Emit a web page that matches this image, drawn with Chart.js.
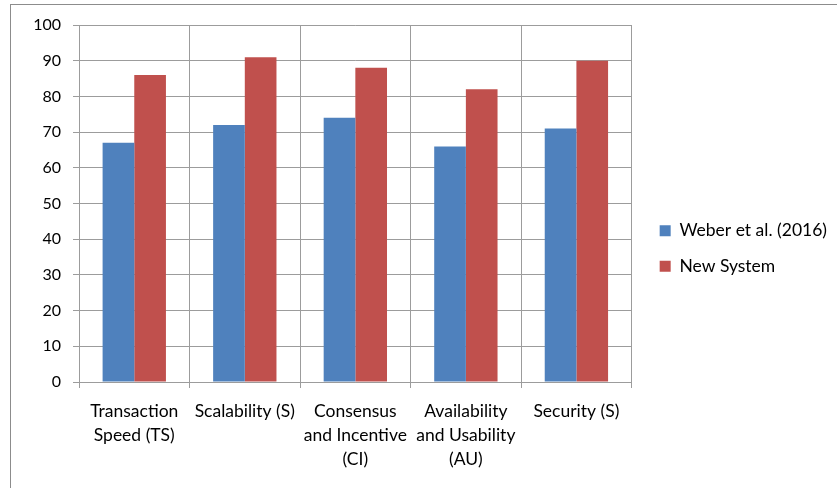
<!DOCTYPE html>
<html>
<head>
<meta charset="utf-8">
<script src="https://cdn.jsdelivr.net/npm/chart.js@4.4.1/dist/chart.umd.min.js"></script>
<style>
  body { margin: 0; background: #fff; }
  #wrap { position: relative; width: 837px; height: 488px; }
  #frame {
    position: absolute; left: 10px; top: 4px; width: 840px; height: 500px;
    border-left: 1px solid #8c8c8c; border-top: 1px solid #8c8c8c;
    pointer-events: none;
  }
</style>
</head>
<body>
<div id="wrap">
  <canvas id="chart" width="837" height="488"></canvas>
  <div id="frame"></div>
</div>
<script>
const categories = [
  ["Transaction", "Speed (TS)"],
  ["Scalability (S)"],
  ["Consensus", "and Incentive", "(CI)"],
  ["Availability", "and Usability", "(AU)"],
  ["Security (S)"]
];
const weberValues = [67, 72, 74, 66, 71];
const newSystemValues = [86, 91, 88, 82, 90];
const yTicks = [0, 10, 20, 30, 40, 50, 60, 70, 80, 90, 100];

const gridColor = "#9c9c9c";
const fontFamily = "Lato, 'Open Sans', sans-serif";

new Chart(document.querySelector("#chart").getContext("2d"), {
  type: "bar",
  data: {
    labels: categories,
    datasets: [
      {
        label: "Weber et al. (2016)",
        data: weberValues,
        backgroundColor: "#4f81bd",
      },
      {
        label: "New System",
        data: newSystemValues,
        backgroundColor: "#c0504d",
      },
    ],
  },
  options: {
    responsive: false,
    animation: false,
    layout: { padding: { top: 25, right: 0, left: 0, bottom: 16 } },
    datasets: {
      bar: { categoryPercentage: 0.573, barPercentage: 1.0 },
    },
    plugins: {
      tooltip: { enabled: false },
      legend: {
        position: "right",
        maxWidth: 220,
        labels: {
          boxWidth: 11,
          boxHeight: 11,
          padding: 18,
          color: "#000",
          font: { family: fontFamily, size: 17.5 },
        },
      },
    },
    scales: {
      x: {
        afterFit: (scale) => { scale.height = 90; },
        grid: { color: gridColor, offset: true, tickLength: 6 },
        border: { color: gridColor },
        ticks: {
          color: "#000",
          maxRotation: 0,
          autoSkip: false,
          padding: 11,
          font: { family: fontFamily, size: 17.5, lineHeight: 1.37 },
        },
      },
      y: {
        min: 0,
        max: 100,
        afterFit: (scale) => { scale.width = 79; },
        afterBuildTicks: (scale) => { scale.ticks = yTicks.map((v) => ({ value: v })); },
        grid: { color: gridColor, tickLength: 6 },
        border: { color: gridColor },
        ticks: {
          color: "#000",
          padding: 12,
          font: { family: fontFamily, size: 16 },
        },
      },
      // empty space between plot and legend
      gap: {
        position: "right",
        display: false,
        afterFit: (scale) => { scale.width = 10; },
      },
    },
  },
});
</script>
</body>
</html>
